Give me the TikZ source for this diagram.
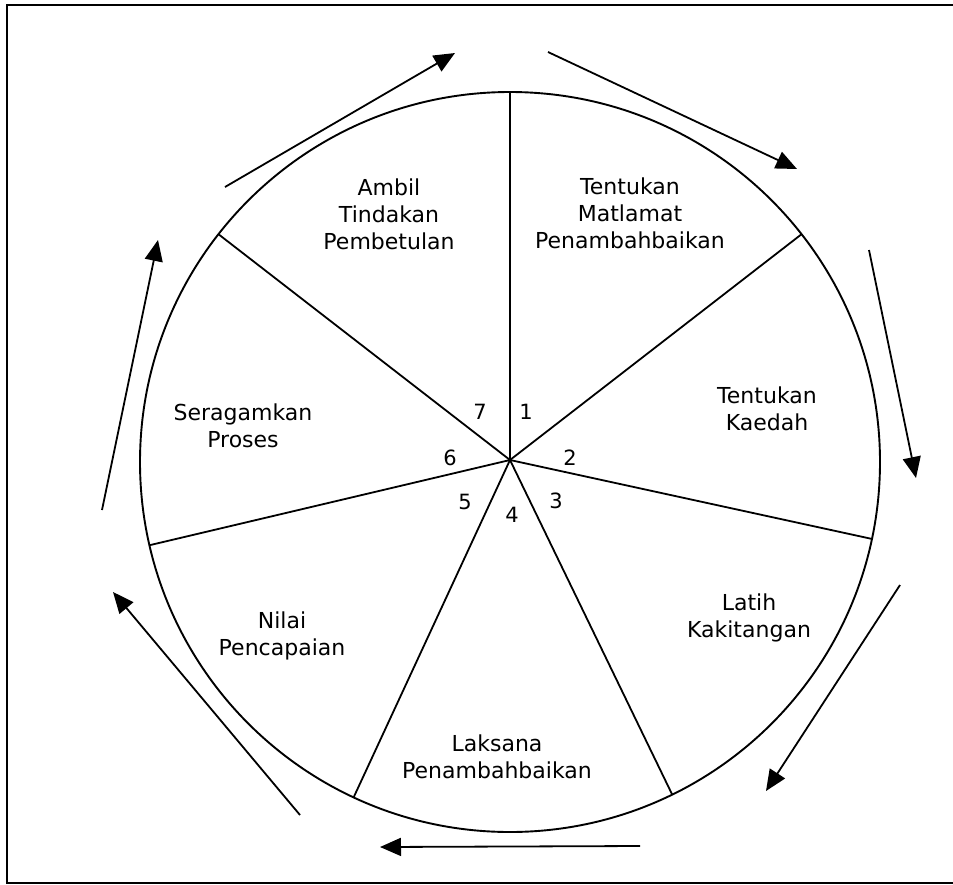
\documentclass[tikz,border=0pt]{standalone}
\usepackage{fontspec}
\setmainfont{DejaVu Sans}
\usetikzlibrary{arrows.meta}
\begin{document}
\begin{tikzpicture}[x=1pt,y=-1pt,
  wheel/.style={circle,draw,line width=1.9pt,minimum size=740pt,inner sep=0pt,outer sep=0pt},
  spoke/.style={line width=1.8pt},
  flow/.style={line width=1.8pt,-{Triangle[length=21pt,width=18pt]}},
  lbl/.style={align=center,font=\fontsize{22}{27}\selectfont,inner sep=0pt},
  num/.style={font=\fontsize{21}{24}\selectfont,inner sep=0pt}]
\useasboundingbox (0,0) rectangle (953,884);
\draw[line width=2pt] (953,5) -- (7,5) -- (7,883) -- (953,883);
\node[wheel] (w) at (510,462) {};
\coordinate (o) at (510,460);
\foreach \k in {0,...,6} {
  \draw[spoke] (o) -- (w.{90-\k*360/7});
}
% labels
\node[lbl] (t7) at (389,214) {Ambil\\Tindakan\\Pembetulan};
\node[lbl] (t1) at (630,213) {Tentukan\\Matlamat\\Penambahbaikan};
\node[lbl] (t2) at (767,409) {Tentukan\\Kaedah};
\node[lbl] (t3) at (749,618) {Latih\\Kakitangan};
\node[lbl] (t4) at (497,757) {Laksana\\Penambahbaikan};
\node[lbl] (t5) at (282,636) {Nilai\\Pencapaian};
\node[lbl] (t6) at (243,426) {Seragamkan\\Proses};
% numbers
\node[num] (n1) at (526,412) {1};
\node[num] (n2) at (570,458) {2};
\node[num] (n3) at (556,501) {3};
\node[num] (n4) at (512,515) {4};
\node[num] (n5) at (465,502) {5};
\node[num] (n6) at (450,458) {6};
\node[num] (n7) at (480,412) {7};
% outer arrows
\coordinate (a1s) at (225,187); \coordinate (a1e) at (455,53);
\coordinate (a2s) at (548,52);  \coordinate (a2e) at (797,169);
\coordinate (a3s) at (869,250); \coordinate (a3e) at (916,478);
\coordinate (a4s) at (900,585); \coordinate (a4e) at (766,791);
\coordinate (a5s) at (640,846); \coordinate (a5e) at (380,847);
\coordinate (a6s) at (300,815); \coordinate (a6e) at (113,592);
\coordinate (a7s) at (102,510); \coordinate (a7e) at (158,240);
\draw[flow] (a1s) -- (a1e);
\draw[flow] (a2s) -- (a2e);
\draw[flow] (a3s) -- (a3e);
\draw[flow] (a4s) -- (a4e);
\draw[flow] (a5s) -- (a5e);
\draw[flow] (a6s) -- (a6e);
\draw[flow] (a7s) -- (a7e);
\end{tikzpicture}
\end{document}
